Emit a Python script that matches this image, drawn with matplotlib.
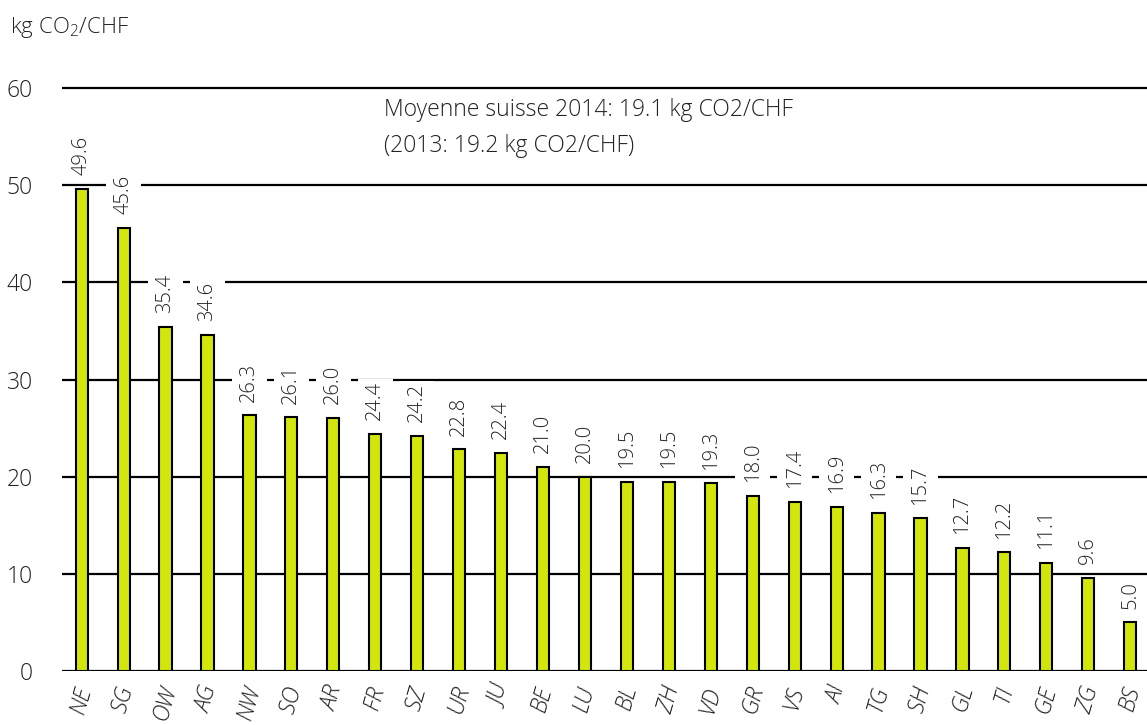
import numpy as np
import matplotlib.pyplot as plt
from matplotlib.path import Path

plt.rcParams['font.family'] = ['Open Sans', 'DejaVu Sans']

# cantons and CO2 intensity (kg CO2 / CHF), 2014
cantons = ['NE', 'SG', 'OW', 'AG', 'NW', 'SO', 'AR', 'FR', 'SZ', 'UR', 'JU', 'BE', 'LU',
           'BL', 'ZH', 'VD', 'GR', 'VS', 'AI', 'TG', 'SH', 'GL', 'TI', 'GE', 'ZG', 'BS']
values = [49.6, 45.6, 35.4, 34.6, 26.3, 26.1, 26.0, 24.4, 24.2, 22.8, 22.4, 21.0, 20.0,
          19.5, 19.5, 19.3, 18.0, 17.4, 16.9, 16.3, 15.7, 12.7, 12.2, 11.1, 9.6, 5.0]
yticks = [0, 10, 20, 30, 40, 50, 60]

bar_color = '#d2e60c'
txt_color = '#222222'
fw = 'light'


# white box behind the rotated value labels: narrow along text, wide across
def label_box(x0, y0, width, height, mutation_size):
    px = 0.12 * mutation_size
    py = 0.36 * mutation_size
    x0, x1 = x0 - px, x0 + width + px
    y0, y1 = y0 - py, y0 + height + py
    return Path([(x0, y0), (x1, y0), (x1, y1), (x0, y1), (x0, y0)], closed=True)


fig = plt.figure(figsize=(11.47, 7.25), dpi=100)
ax = fig.add_axes([0.054, 0.0745, 0.946, 0.8175])

x = np.arange(len(cantons))
ax.bar(x, values, width=0.29, color=bar_color, edgecolor='black', linewidth=1.5, zorder=3)

for xi, v in zip(x, values):
    ax.annotate(f'{v:.1f}', (xi, v), xytext=(0, 10), textcoords='offset points',
                rotation=90, ha='center', va='bottom', fontsize=14.5, color=txt_color,
                fontweight=fw,
                bbox=dict(boxstyle=label_box, fc='white', ec='none'), zorder=2)

ax.set_ylim(0, 61)
ax.set_xlim(-0.47, 25.4)
ax.set_yticks(yticks)
ax.set_yticklabels([str(t) for t in yticks], fontsize=16.5, color=txt_color, fontweight=fw)
ax.tick_params(axis='y', length=0, pad=21)
ax.set_xticks(x)
ax.set_xticklabels(cantons, fontsize=16.5, style='italic', rotation=74, color=txt_color,
                   fontweight=fw)
ax.tick_params(axis='x', length=0, pad=9)

ax.grid(axis='y', color='black', linewidth=1.6)
ax.set_axisbelow(True)
for s in ax.spines.values():
    s.set_visible(False)

ax.text(7.2, 55.9, 'Moyenne suisse 2014: 19.1 kg CO2/CHF\n(2013: 19.2 kg CO2/CHF)',
        fontsize=16.5, color=txt_color, ha='left', va='center', linespacing=1.65,
        fontweight=fw)

fig.text(10 / 1147, 1 - 27 / 725, r'kg CO$_\mathregular{2}$/CHF', fontsize=16,
         color=txt_color, ha='left', va='center', fontweight=fw)

fig.savefig('out.png', dpi=100)
